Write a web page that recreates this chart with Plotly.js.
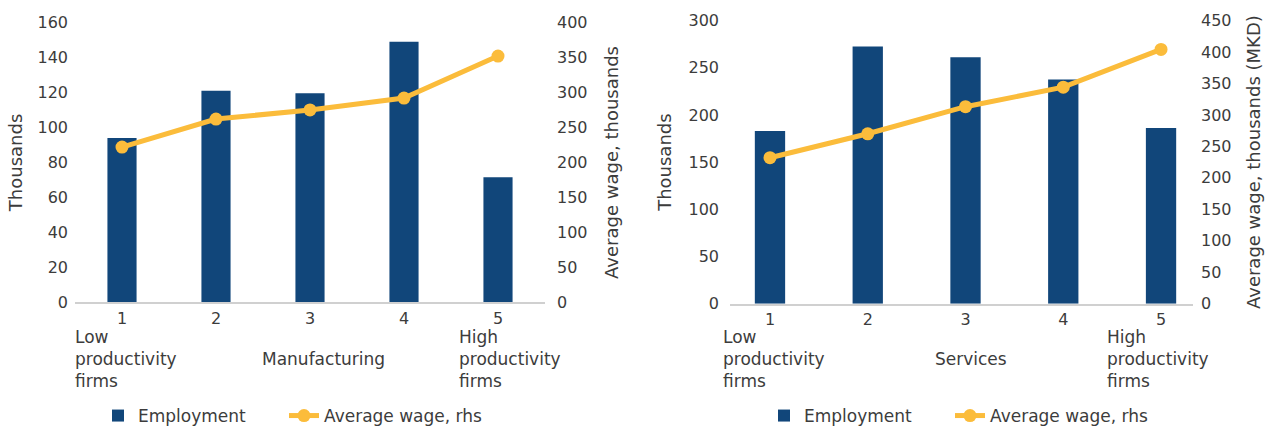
<!DOCTYPE html>
<html>
<head>
<meta charset="utf-8">
<script src="https://cdn.plot.ly/plotly-3.0.1.min.js"></script>
<style>html,body{margin:0;padding:0;background:#fff;overflow:hidden}#chart{width:1271px;height:434px}</style>
</head>
<body>
<div id="chart"></div>
<script>
// ---- Data ----
const categories = [1, 2, 3, 4, 5];
const tickLabels = ['1', '2', '3', '4', '5'];
const mfgEmployment = [94, 121, 119.5, 149, 71.5];
const mfgWage = [222, 262, 275, 292, 352];
const svcEmployment = [183, 272.5, 261, 237.5, 186];
const svcWage = [232, 270, 313, 344, 404];
const panelNames = ['Manufacturing', 'Services'];
const lowLabel = 'Low<br>productivity<br>firms';
const highLabel = 'High<br>productivity<br>firms';
const seriesNames = ['Employment', 'Average wage, rhs'];
const leftAxisTitle = 'Thousands';
const rightAxisTitles = ['Average wage, thousands', 'Average wage, thousands (MKD)'];

// ---- Style ----
const BAR = '#11467a';
const LINE = '#fbbc3b';
const TXT = '#3c3c3c';
const FONT = 'DejaVu Sans, sans-serif';

const traces = [
  {type:'bar', x:categories, y:mfgEmployment, name:seriesNames[0], marker:{color:BAR}, width:0.31,
   xaxis:'x', yaxis:'y', legend:'legend'},
  {type:'scatter', mode:'lines+markers', x:categories, y:mfgWage, name:seriesNames[1],
   line:{color:LINE, width:5}, marker:{color:LINE, size:13}, xaxis:'x', yaxis:'y2', legend:'legend2'},
  {type:'bar', x:categories, y:svcEmployment, name:seriesNames[0], marker:{color:BAR}, width:0.31,
   xaxis:'x2', yaxis:'y3', legend:'legend3'},
  {type:'scatter', mode:'lines+markers', x:categories, y:svcWage, name:seriesNames[1],
   line:{color:LINE, width:5}, marker:{color:LINE, size:13}, xaxis:'x2', yaxis:'y4', legend:'legend4'}
];

const W = 1271, H = 434;
const px = v => v / W;
const py = v => (H - v) / H;

const xBase = {
  tickmode:'array', tickvals:categories, ticktext:tickLabels, showgrid:false, zeroline:false,
  showline:true, linecolor:'#d0d0d0', linewidth:2, ticks:'', tickfont:{size:16, color:TXT}
};
const yBase = {
  showgrid:false, zeroline:false, showline:false, ticks:'', tickfont:{size:16, color:TXT}
};
const titleFont = {size:18, color:TXT};
const labelFont = {size:17, color:TXT};

const annotations = [];
function addLabels(xref, lowX, highX, midX, name) {
  annotations.push({xref:xref, yref:'paper', x:lowX, y:py(363), xanchor:'left', yanchor:'middle',
    align:'left', text:lowLabel, showarrow:false, font:labelFont});
  annotations.push({xref:xref, yref:'paper', x:highX, y:py(363), xanchor:'left', yanchor:'middle',
    align:'left', text:highLabel, showarrow:false, font:labelFont});
  annotations.push({xref:xref, yref:'paper', x:midX, y:py(363), xanchor:'center', yanchor:'middle',
    text:name, showarrow:false, font:labelFont});
}
addLabels('x domain', -0.004, 0.813, 0.528, panelNames[0]);
addLabels('x2 domain', -0.02, 0.810, 0.52, panelNames[1]);

function legendAt(xPix) {
  return {orientation:'h', x:px(xPix), y:py(421), xanchor:'left', yanchor:'middle',
    font:labelFont, itemwidth:30, bgcolor:'rgba(0,0,0,0)'};
}

const layout = {
  width:W, height:H, margin:{l:0, r:0, t:0, b:0},
  paper_bgcolor:'#fff', plot_bgcolor:'rgba(0,0,0,0)',
  font:{family:FONT, color:TXT, size:17},
  xaxis:Object.assign({}, xBase, {domain:[px(75), px(545)], range:[0.5, 5.5], anchor:'y'}),
  yaxis:Object.assign({}, yBase, {domain:[py(306), py(22.7)], range:[0, 160], dtick:20, anchor:'x',
    ticklabelstandoff:6, title:{text:leftAxisTitle, font:titleFont, standoff:10}}),
  yaxis2:Object.assign({}, yBase, {range:[0, 400], dtick:50, overlaying:'y', side:'right', anchor:'x',
    ticklabelstandoff:11, title:{text:rightAxisTitles[0], font:titleFont, standoff:18}}),
  xaxis2:Object.assign({}, xBase, {domain:[px(730), px(1193)], range:[0.591, 5.327], anchor:'y3'}),
  yaxis3:Object.assign({}, yBase, {domain:[py(307.3), py(20.7)], range:[0, 300], dtick:50, anchor:'x2',
    ticklabelstandoff:10, title:{text:leftAxisTitle, font:titleFont, standoff:12}}),
  yaxis4:Object.assign({}, yBase, {range:[0, 450], dtick:50, overlaying:'y3', side:'right', anchor:'x2',
    ticklabelstandoff:7, title:{text:rightAxisTitles[1], font:titleFont, standoff:16}}),
  legend:legendAt(98),
  legend2:legendAt(284),
  legend3:legendAt(764),
  legend4:legendAt(950),
  annotations:annotations,
  showlegend:true
};

Plotly.newPlot('chart', traces, layout, {displayModeBar:false, staticPlot:true});
</script>
</body>
</html>
